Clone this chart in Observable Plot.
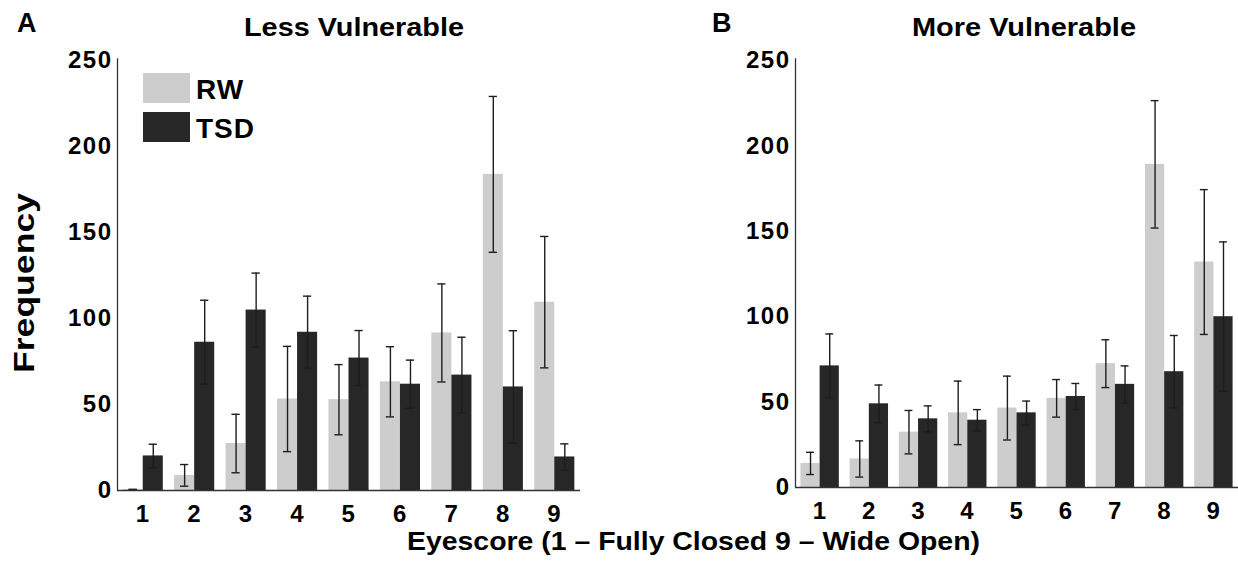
<!DOCTYPE html>
<html>
<head>
<meta charset="utf-8">
<script src="https://cdn.jsdelivr.net/npm/d3@7"></script>
<script src="https://cdn.jsdelivr.net/npm/@observablehq/plot@0.6"></script>
<style>
  html, body { margin: 0; padding: 0; background: #fff; }
  #fig { position: relative; width: 1238px; height: 565px; overflow: hidden; background: #fff; }
  #fig > svg { position: absolute; top: 0; }
  .ov text { font-family: "Liberation Sans", Arial, Helvetica, sans-serif; font-weight: bold; fill: #000; }
</style>
</head>
<body>
<div id="fig"></div>
<script>
// ---- data ----
const eyescores = [1, 2, 3, 4, 5, 6, 7, 8, 9];
const groups = ["RW", "TSD"];
const groupColors = ["#cdcdcd", "#272727"];
const yTicks = [0, 50, 100, 150, 200, 250];

const lessRW     = [0.6, 8.8, 27.3, 53.2, 52.8, 63.2, 91.6, 183.8, 109.5];
const lessRWErr  = [0,   6.3, 17.0, 30.6, 20.4, 20.4, 28.5, 45.3, 38.2];
const lessTSD    = [20.1, 86.2, 104.9, 92.0, 77.0, 61.8, 67.1, 60.2, 19.5];
const lessTSDErr = [6.8, 24.4, 21.5, 21.0, 16.0, 14.0, 22.0, 32.7, 7.6];

const moreRW     = [14.1, 16.7, 32.4, 43.7, 46.5, 52.2, 72.5, 189.2, 132.0];
const moreRWErr  = [6.5, 10.6, 12.7, 18.6, 18.7, 11.0, 14.0, 37.3, 42.4];
const moreTSD    = [71.2, 49.0, 40.2, 39.4, 43.7, 53.3, 60.4, 67.8, 100.0];
const moreTSDErr = [18.7, 11.0, 7.6, 6.2, 6.9, 7.6, 10.8, 21.2, 43.8];

const panelTitles = ["Less Vulnerable", "More Vulnerable"];
const panelLetters = ["A", "B"];
const yLabel = "Frequency";
const xLabel = "Eyescore (1 \u2013 Fully Closed 9 \u2013 Wide Open)";

// ---- drawing ----
const FONT = '"Liberation Sans", Arial, Helvetica, sans-serif';
const barW = 0.39;   // bar width in category units
const capW = 0.08;   // half cap width in category units

function panel({rw, rwErr, tsd, tsdErr, width, marginLeft, marginRight, marginBottom}) {
  const rows = eyescores.flatMap((c, i) => [
    {cat: c, group: "RW", value: rw[i], err: rwErr[i]},
    {cat: c, group: "TSD", value: tsd[i], err: tsdErr[i]}
  ]);
  const side = d => d.group === "RW" ? -1 : 1;
  const center = d => d.cat + side(d) * barW / 2;
  return Plot.plot({
    width, height: 565,
    marginTop: 60, marginBottom, marginLeft, marginRight,
    x: {domain: [0.5, 9.5]},
    y: {domain: [0, 250]},
    color: {domain: groups, range: groupColors},
    style: {fontFamily: FONT, fontWeight: "bold", fontSize: "24px", color: "#000", background: "transparent", letterSpacing: "1.5px"},
    marks: [
      Plot.rect(rows, {
        x1: d => d.group === "RW" ? d.cat - barW : d.cat,
        x2: d => d.group === "RW" ? d.cat : d.cat + barW,
        y1: 0, y2: "value", fill: "group"
      }),
      Plot.ruleX(rows, {x: center, y1: d => d.value - d.err, y2: d => d.value + d.err, stroke: "#1e1e1e", strokeWidth: 1.4}),
      Plot.ruleY(rows, {y: d => d.value + d.err, x1: d => center(d) - capW, x2: d => center(d) + capW, stroke: "#1e1e1e", strokeWidth: 1.4}),
      Plot.ruleY(rows, {y: d => d.value - d.err, x1: d => center(d) - capW, x2: d => center(d) + capW, stroke: "#1e1e1e", strokeWidth: 1.4}),
      Plot.ruleX([0.5], {y1: 0, y2: 251, stroke: "#333", strokeWidth: 1.3}),
      Plot.ruleY([0], {stroke: "#333", strokeWidth: 1.3}),
      Plot.axisY({ticks: yTicks, tickSize: 0, tickPadding: 5, label: null, fontSize: 24, fontWeight: "bold"}),
      Plot.axisX({ticks: eyescores, tickSize: 0, tickPadding: 14, label: null, fontSize: 24, fontWeight: "bold"})
    ]
  });
}

const fig = document.getElementById("fig");
const left = panel({rw: lessRW, rwErr: lessRWErr, tsd: lessTSD, tsdErr: lessTSDErr,
  width: 600, marginLeft: 117, marginRight: 20, marginBottom: 75});
left.style.left = "0px";
fig.appendChild(left);

const right = panel({rw: moreRW, rwErr: moreRWErr, tsd: moreTSD, tsdErr: moreTSDErr,
  width: 638, marginLeft: 195, marginRight: 0, marginBottom: 78});
right.style.left = "600px";
fig.appendChild(right);

// ---- overlay texts and legend ----
const ov = d3.select(fig).append("svg")
  .attr("class", "ov").attr("width", 1238).attr("height", 565)
  .style("left", "0px").style("pointer-events", "none");

function txt(s, x, y, size, opts = {}) {
  const t = ov.append("text").attr("x", x).attr("y", y).attr("font-size", size).text(s);
  if (opts.anchor) t.attr("text-anchor", opts.anchor);
  if (opts.len) t.attr("textLength", opts.len).attr("lengthAdjust", "spacingAndGlyphs");
  if (opts.transform) t.attr("transform", opts.transform);
  if (opts.ls) t.style("letter-spacing", opts.ls);
  return t;
}

txt(panelLetters[0], 17, 32, 27);
txt(panelLetters[1], 712, 32, 27);
txt(panelTitles[0], 354, 36, 25, {anchor: "middle", len: 220});
txt(panelTitles[1], 1024, 36, 25, {anchor: "middle", len: 224});
txt(yLabel, 0, 0, 29, {anchor: "middle", len: 180, transform: "translate(34,283) rotate(-90)"});
txt(xLabel, 693.5, 550, 25, {anchor: "middle", len: 573});

// legend
const legY = [73, 112];
groups.forEach((g, i) => {
  ov.append("rect").attr("x", 143).attr("y", legY[i]).attr("width", 47).attr("height", 30)
    .attr("fill", groupColors[i]);
  txt(g, 196, legY[i] + 26, 28, {ls: "1px"});
});
</script>
</body>
</html>
